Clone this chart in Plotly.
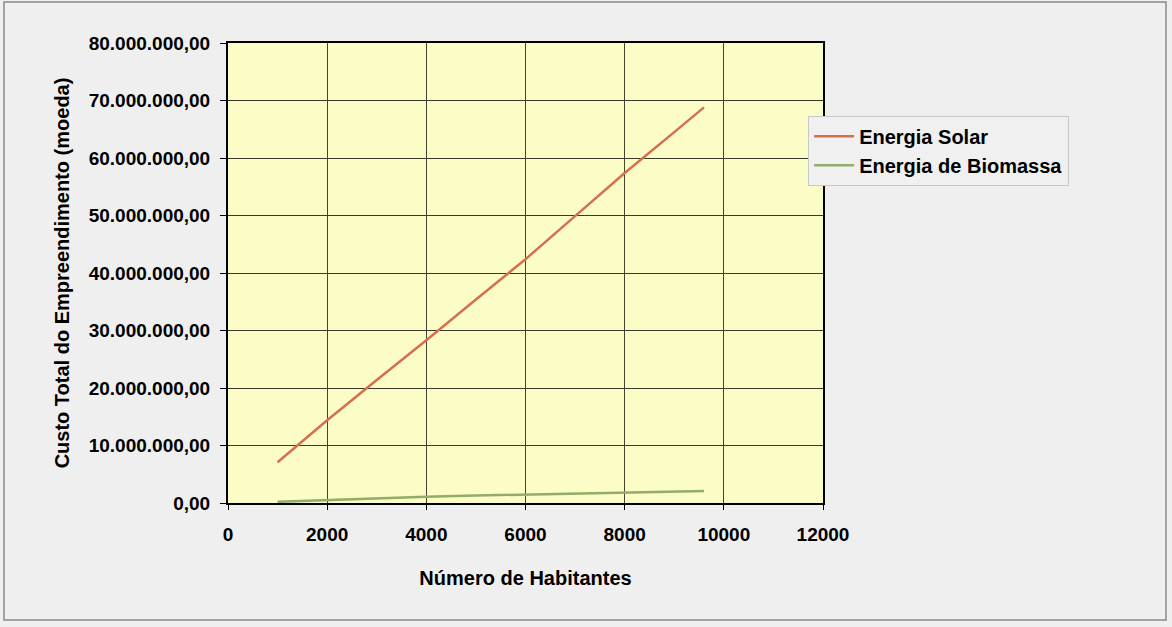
import plotly.graph_objects as go

habitantes = [1000, 2000, 3000, 4000, 5000, 6000, 7000, 8000, 9000, 9600]
energia_solar = [7.1e6, 14.4e6, 21.4e6, 28.3e6, 35.4e6, 42.4e6, 49.9e6, 57.4e6, 64.5e6, 68.8e6]
energia_biomassa = [0.2e6, 0.5e6, 0.9e6, 1.1e6, 1.3e6, 1.5e6, 1.7e6, 1.8e6, 2.0e6, 2.1e6]

x_ticks = [0, 2000, 4000, 6000, 8000, 10000, 12000]
y_ticks = [0, 10e6, 20e6, 30e6, 40e6, 50e6, 60e6, 70e6, 80e6]

FONT = "Liberation Sans, Arial, sans-serif"
TICK_SIZE = 19
TEXT_SIZE = 20

fig = go.Figure()
fig.add_trace(go.Scatter(x=habitantes, y=energia_solar, mode="lines", name="Energia Solar",
                         line=dict(color="#D5704F", width=2.5)))
fig.add_trace(go.Scatter(x=habitantes, y=energia_biomassa, mode="lines", name="Energia de Biomassa",
                         line=dict(color="#93AD68", width=2.5)))

W, H = 1172, 627
L, R, T, B = 228, 823, 43, 503
pw, ph = R - L, B - T

def px2paper(px, py):
    return (px - L) / pw, (B - py) / ph

x0, y0 = px2paper(4, 620)
x1, y1 = px2paper(1166, 2)

fig.update_layout(
    width=W, height=H,
    margin=dict(l=L, r=W - R, t=T, b=H - B),
    paper_bgcolor="#EFEFEF",
    plot_bgcolor="#FCFCC6",
    separators=",.",
    font=dict(family=FONT, size=TICK_SIZE, color="#000000"),
    showlegend=True,
    legend=dict(
        x=0.975, y=0.842, xanchor="left", yanchor="top",
        bgcolor="#F0F0F0", bordercolor="#C8C8C8", borderwidth=1,
        font=dict(family=FONT, size=TEXT_SIZE, color="#000000", weight="bold"),
        itemwidth=40, tracegroupgap=2,
    ),
    xaxis=dict(
        range=[0, 12000], tickvals=x_ticks, tickformat="d",
        showgrid=True, gridcolor="#45452F", gridwidth=1,
        showline=True, linecolor="#000000", linewidth=2, mirror=True,
        ticks="outside", ticklen=5, tickcolor="#000000",
        ticklabelstandoff=8,
        tickfont=dict(family=FONT, size=TICK_SIZE, color="#000000", weight="bold"),
        zeroline=False,
        title=dict(text="Número de Habitantes", standoff=27,
                   font=dict(family=FONT, size=TEXT_SIZE, color="#000000", weight="bold")),
    ),
    yaxis=dict(
        range=[0, 80e6], tickvals=y_ticks, tickformat=",.2f",
        showgrid=True, gridcolor="#3A3A28", gridwidth=1,
        showline=True, linecolor="#000000", linewidth=2, mirror=True,
        ticks="outside", ticklen=6, tickcolor="#000000",
        ticklabelstandoff=6,
        tickfont=dict(family=FONT, size=TICK_SIZE, color="#000000", weight="bold"),
        zeroline=False,
        title=dict(text="Custo Total do Empreendimento (moeda)", standoff=14,
                   font=dict(family=FONT, size=TEXT_SIZE, color="#000000", weight="bold")),
    ),
    shapes=[dict(type="rect", xref="paper", yref="paper", x0=x0, y0=y0, x1=x1, y1=y1,
                 line=dict(color="#8A8A8A", width=1.5), fillcolor="rgba(0,0,0,0)", layer="below")],
)

fig.write_html("out.html", config={"displayModeBar": False},
               post_script="document.body.style.margin='0';document.body.style.background='#EFEFEF';")
